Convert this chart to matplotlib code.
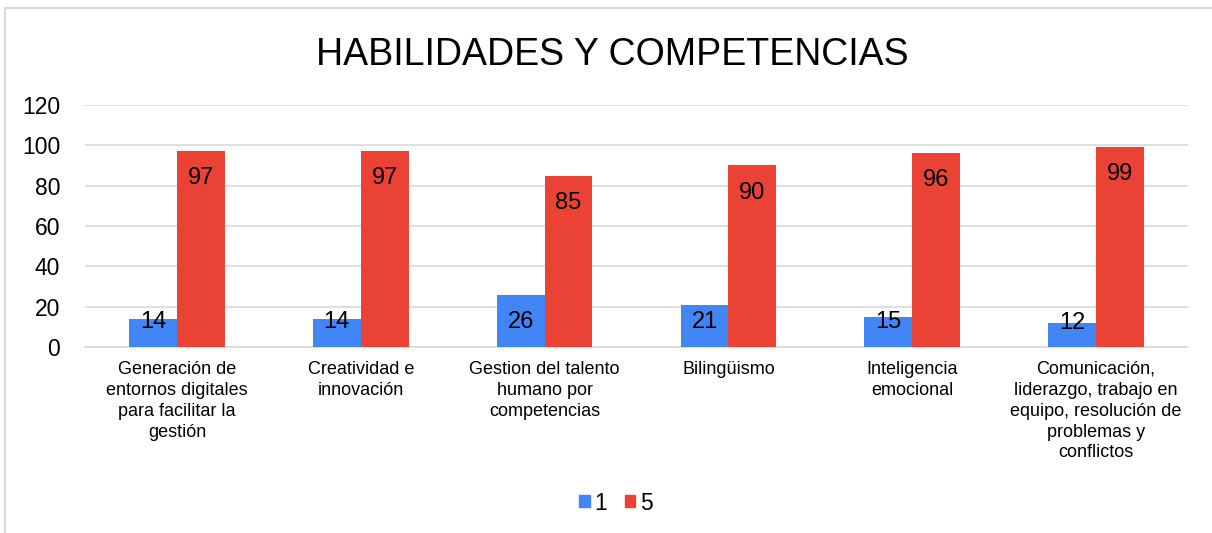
import matplotlib
matplotlib.use("Agg")
import matplotlib.pyplot as plt
import numpy as np
from matplotlib.patches import Rectangle
from matplotlib.lines import Line2D

categories = [
    "Generación de\nentornos digitales\npara facilitar la\ngestión",
    "Creatividad e\ninnovación",
    "Gestion del talento\nhumano por\ncompetencias",
    "Bilingüismo",
    "Inteligencia\nemocional",
    "Comunicación,\nliderazgo, trabajo en\nequipo, resolución de\nproblemas y\nconflictos",
]
series_names = ["1", "5"]
values_1 = [14, 14, 26, 21, 15, 12]
values_5 = [97, 97, 85, 90, 96, 99]
yticks = [0, 20, 40, 60, 80, 100, 120]
title = "HABILIDADES Y COMPETENCIAS"

plt.rcParams['font.family'] = ['Liberation Sans', 'DejaVu Sans']

W, H = 1212, 533
fig = plt.figure(figsize=(W / 100, H / 100), dpi=100)
ax = fig.add_axes([85 / W, 1 - 347 / H, (1188 - 85) / W, (347 - 105) / H])

blue = "#4285F4"
red = "#EA4335"
x = np.arange(len(categories))
bw = 0.26
ax.bar(x - bw / 2, values_1, bw, color=blue, zorder=3, label=series_names[0])
ax.bar(x + bw / 2, values_5, bw, color=red, zorder=3, label=series_names[1])

def label_y(v):
    return max(v - 13.4, min(v, 12.5))

for xi, v in zip(x, values_1):
    ax.text(xi - bw / 2, label_y(v), str(v), ha="center", va="center", fontsize=17, color="black", zorder=4)
for xi, v in zip(x, values_5):
    ax.text(xi + bw / 2, label_y(v), str(v), ha="center", va="center", fontsize=17, color="black", zorder=4)

ax.set_xlim(-0.5, len(categories) - 0.5)
ax.set_ylim(0, 120)
ax.set_yticks(yticks)
ax.set_yticklabels([str(t) for t in yticks], fontsize=16.5)
ax.set_xticks(x)
ax.set_xticklabels(categories, fontsize=13, linespacing=1.3, va="top")
ax.tick_params(axis="x", length=0, pad=10)
ax.tick_params(axis="y", length=0, pad=18)
ax.grid(axis="y", color="#d9d9d9", linewidth=1.2, zorder=0)
for s in ["top", "right", "left"]:
    ax.spines[s].set_visible(False)
ax.spines["bottom"].set_color("#d9d9d9")
ax.spines["bottom"].set_linewidth(1.2)

fig.text(612 / W, 1 - 55 / H, title, ha="center", va="center", fontsize=27)

handles = [Rectangle((0, 0), 1, 1, color=blue), Rectangle((0, 0), 1, 1, color=red)]
fig.legend(handles, series_names, loc="center", bbox_to_anchor=(616 / W, 1 - 503 / H),
           ncol=2, frameon=False, fontsize=16.5, handlelength=0.45, handleheight=0.45,
           handletextpad=0.2, columnspacing=0.8)

# chart border (left and top visible)
fig.add_artist(Line2D([5 / W, 5 / W], [0, 1 - 8 / H], color="#d9d9d9", linewidth=1.5, transform=fig.transFigure))
fig.add_artist(Line2D([5 / W, 1], [1 - 8 / H, 1 - 8 / H], color="#d9d9d9", linewidth=1.5, transform=fig.transFigure))

fig.savefig("out.png", dpi=100)
